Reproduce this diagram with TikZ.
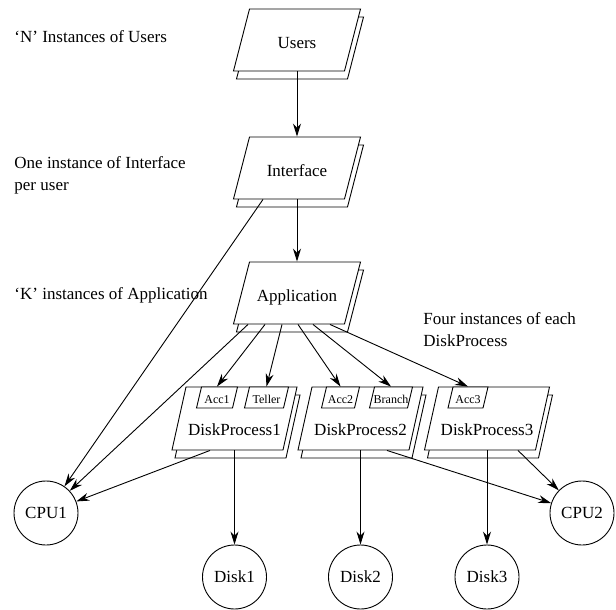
\documentclass[tikz,border=0pt]{standalone}
\usepackage{fontspec}
\setmainfont{Liberation Serif}
\usetikzlibrary{calc,arrows.meta}
\newcommand{\pgbox}[5]{%
  \filldraw[fill=white] ({#1-#3+#5+3},{#2-#4+8}) -- ({#1+#3+#5+3},{#2-#4+8}) -- ({#1+#3-#5+3},{#2+#4+8}) -- ({#1-#3-#5+3},{#2+#4+8}) -- cycle;
  \filldraw[fill=white] ({#1-#3+#5},{#2-#4}) -- ({#1+#3+#5},{#2-#4}) -- ({#1+#3-#5},{#2+#4}) -- ({#1-#3-#5},{#2+#4}) -- cycle;}
\newcommand{\pgsub}[5]{%
  \filldraw[fill=white] ({#1-#3+#5},{#2-#4}) -- ({#1+#3+#5},{#2-#4}) -- ({#1+#3-#5},{#2+#4}) -- ({#1-#3-#5},{#2+#4}) -- cycle;}
\begin{document}
\begin{tikzpicture}[x=1pt,y=-1pt,line width=0.9pt,
  big/.style={font=\fontsize{17}{21.5}\selectfont},
  boxnode/.style={big,rectangle,inner sep=0pt,minimum width=111pt,minimum height=62pt,text height=17pt,text depth=0pt},
  dpnode/.style={big,rectangle,inner sep=0pt,minimum width=111pt,minimum height=63pt,text height=33pt,text depth=0pt},
  subnode/.style={font=\fontsize{12}{14}\selectfont,rectangle,inner sep=0pt,minimum height=21pt,text height=12pt,text depth=0pt},
  disc/.style={big,circle,draw,minimum size=64pt,inner sep=0pt},
  lbl/.style={big,inner sep=0pt,align=left},
  arr/.style={-{Stealth[length=13pt,width=8pt]}}
]
\useasboundingbox (0,0) rectangle (616,610);

% main boxes
\pgbox{297}{40}{55.5}{31}{8}
\node[boxnode] (users) at (297,40) {Users};
\pgbox{297}{168}{55.5}{31}{8}
\node[boxnode] (iface) at (297,168) {Interface};
\pgbox{297}{293}{55.5}{31}{8}
\node[boxnode] (app) at (297,293) {Application};

% disk processes
\pgbox{234.5}{418.5}{55.5}{31.5}{7}
\node[dpnode] (dp1) at (234.5,418.5) {DiskProcess1};
\pgbox{360.5}{418.5}{55.5}{31.5}{7}
\node[dpnode] (dp2) at (360.5,418.5) {DiskProcess2};
\pgbox{487}{418.5}{55.5}{31.5}{7}
\node[dpnode] (dp3) at (487,418.5) {DiskProcess3};

% sub boxes
\pgsub{217}{397.5}{18}{10.5}{2.5}
\node[subnode,minimum width=36pt] (acc1) at (217,397.5) {Acc1};
\pgsub{266.5}{397.5}{19.5}{10.5}{2.5}
\node[subnode,minimum width=39pt] (teller) at (266.5,397.5) {Teller};
\pgsub{340.5}{397.5}{16.5}{10.5}{2.5}
\node[subnode,minimum width=33pt] (acc2) at (340.5,397.5) {Acc2};
\pgsub{391}{397.5}{19}{10.5}{2.5}
\node[subnode,minimum width=38pt] (branch) at (391,397.5) {Branch};
\pgsub{468}{397.5}{17.5}{10.5}{2.5}
\node[subnode,minimum width=35pt] (acc3) at (468,397.5) {Acc3};

% circles
\node[disc] (cpu1) at (46,513) {CPU1};
\node[disc] (cpu2) at (582,513) {CPU2};
\node[disc] (disk1) at (234.5,577) {Disk1};
\node[disc] (disk2) at (360.5,577) {Disk2};
\node[disc] (disk3) at (487,577) {Disk3};

% labels
\node[lbl,anchor=base west] (lN) at (14,43) {‘N’ Instances of Users};
\node[lbl,anchor=north west] (lI) at (14,156.4) {One instance of Interface\\per user};
\node[lbl,anchor=base west] (lK) at (14,299) {‘K’ instances of Application};
\node[lbl,anchor=north west] (lF) at (423,312.4) {Four instances of each\\DiskProcess};

% connectors
\draw[arr] (users.south) -- (iface.north);
\draw[arr] (iface.south) -- (app.north);
\draw[arr] ($(iface.south)+(-34,0)$) -- (cpu1);
\draw[arr] ($(app.south)+(-49,0)$) -- (cpu1);
\draw[arr] ($(app.south)+(-32,0)$) -- (acc1.north);
\draw[arr] ($(app.south)+(-15,0)$) -- (teller.north);
\draw[arr] ($(app.south)+(1,0)$) -- (acc2.north);
\draw[arr] ($(app.south)+(16,0)$) -- (branch.north);
\draw[arr] ($(app.south)+(33,0)$) -- (acc3.north);
\draw[arr] ($(dp1.south)+(-24.5,0)$) -- (cpu1);
\draw[arr] (dp1.south) -- (disk1);
\draw[arr] (dp2.south) -- (disk2);
\draw[arr] ($(dp2.south)+(26.5,0)$) -- (cpu2);
\draw[arr] (dp3.south) -- (disk3);
\draw[arr] ($(dp3.south)+(31,0)$) -- (cpu2);
\end{tikzpicture}
\end{document}
